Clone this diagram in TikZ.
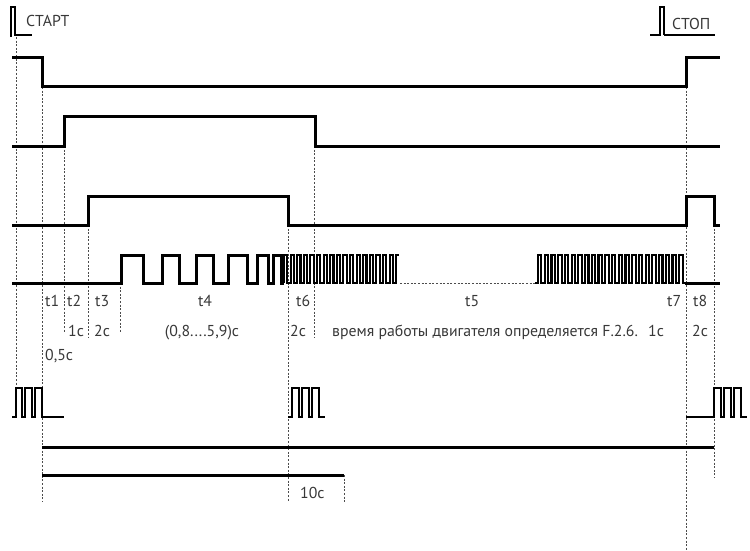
\documentclass[tikz,border=0pt]{standalone}
\usepackage{fontspec}
\setmainfont{PT Sans}
\begin{document}
\begin{tikzpicture}[x=1pt,y=-1pt,
  sig/.style={line width=3pt, line join=miter, line cap=butt},
  fast/.style={line width=2.1pt, line join=miter},
  thinsig/.style={line width=1.8pt, line join=miter},
  guide/.style={line width=0.9pt, dash pattern=on 2pt off 1.6pt, black!70},
  lbl/.style={text=black!78, font=\fontsize{15.8}{15.8}\selectfont, inner sep=0pt}]
\useasboundingbox (0,0) rectangle (750,551);
% guides
\draw[guide] (16,37) -- (16,385);
\draw[guide] (42,87) -- (42,502);
\draw[guide] (64,146) -- (64,333);
\draw[guide] (88,225) -- (88,337);
\draw[guide] (120,283) -- (120,333);
\draw[guide] (288,225) -- (288,502);
\draw[guide] (314,146) -- (314,337);
\draw[guide] (344,475) -- (344,502);
\draw[guide] (686,87) -- (686,550);
\draw[guide] (714,225) -- (714,478);
\draw[guide] (400,283) -- (535,283);
% start / stop pulses
\draw[thinsig] (11,37) -- (11,7) -- (15,7) -- (15,35) -- (32,35);
\draw[thinsig] (650,35) -- (660,35) -- (660,7) -- (664,7) -- (664,35);
\draw[line width=1.3pt] (664,35) -- (715,35);
% row 1
\draw[sig] (12,58) -- (42,58) -- (42,87) -- (686,87) -- (686,58) -- (720,58);
% row 2
\draw[sig] (12,146) -- (64,146) -- (64,116) -- (315,116) -- (315,146) -- (720,146);
% row 3
\draw[sig] (12,225) -- (88,225) -- (88,196) -- (288,196) -- (288,225) -- (686,225) -- (686,196) -- (714,196) -- (714,225) -- (720,225);
% row 4
\draw[sig] (12,283) -- (121,283) -- (121,255) -- (143,255) -- (143,283) -- (162,283) -- (162,255) -- (179,255) -- (179,283) -- (196,283) -- (196,255) -- (213,255) -- (213,283) -- (228,283) -- (228,255) -- (247,255) -- (247,283) -- (257,283) -- (257,255) -- (268,255) -- (268,283) -- (273,283) -- (273,255) -- (281,255) -- (281,283) -- (284,283);
\draw[fast] (284,283) \foreach \i in {0,...,16} { -- ++(0,-28) -- ++(3.3,0) -- ++(0,28) -- ++(3.3,0) } -- ++(0,-28) -- ++(3,0);
\draw[fast] (535,283) -- (538,283) \foreach \i in {0,...,21} { -- ++(0,-28) -- ++(3.4,0) -- ++(0,28) -- ++(3.327,0) };
\draw[sig] (685,283) -- (720,283);
% bottom pulse groups
\draw[thinsig] (12,417) -- (16,417) -- (16,388) -- (22,388) -- (22,417) -- (25,417) -- (25,388) -- (32,388) -- (32,417) -- (35,417) -- (35,388) -- (42,388) -- (42,417) -- (64,417);
\draw[thinsig] (288,417) -- (292,417) -- (292,388) -- (299,388) -- (299,417) -- (302,417) -- (302,388) -- (309,388) -- (309,417) -- (312,417) -- (312,388) -- (319,388) -- (319,417) -- (325,417);
\draw[thinsig] (686,417) -- (714,417) -- (714,388) -- (721,388) -- (721,417) -- (724,417) -- (724,388) -- (731,388) -- (731,417) -- (734,417) -- (734,388) -- (741,388) -- (741,417) -- (747,417);
% bottom lines
\draw[sig] (42,447) -- (714,447);
\draw[sig] (42,475) -- (344,475);
% labels
\node[lbl, anchor=base west] (start) at (26,27) {СТАРТ};
\node[lbl, anchor=base west] (stop) at (672,30) {СТОП};
\node[lbl, anchor=base west] (t1) at (45,306) {t1};
\node[lbl, anchor=base west] (t2) at (67,306) {t2};
\node[lbl, anchor=base west] (t3) at (95,306) {t3};
\node[lbl, anchor=base] (t4) at (205,306) {t4};
\node[lbl, anchor=base west] (t6) at (296,306) {t6};
\node[lbl, anchor=base west] (t5) at (465,306) {t5};
\node[lbl, anchor=base west] (t7) at (667,306) {t7};
\node[lbl, anchor=base west] (t8) at (693,306) {t8};
\node[lbl, anchor=base west] (d2) at (68,336) {1c};
\node[lbl, anchor=base west] (d3) at (94,336) {2c};
\node[lbl, anchor=base] (d4) at (202,336) {(0,8....5,9)c};
\node[lbl, anchor=base west] (d6) at (290,336) {2c};
\node[lbl, anchor=base west] (d5) at (332,336) {время работы двигателя определяется F.2.6.};
\node[lbl, anchor=base west] (d7) at (648,336) {1c};
\node[lbl, anchor=base west] (d8) at (692,336) {2c};
\node[lbl, anchor=base west] (d1) at (45,360) {0,5c};
\node[lbl, anchor=base west] (d10) at (300,498) {10c};
\end{tikzpicture}
\end{document}
